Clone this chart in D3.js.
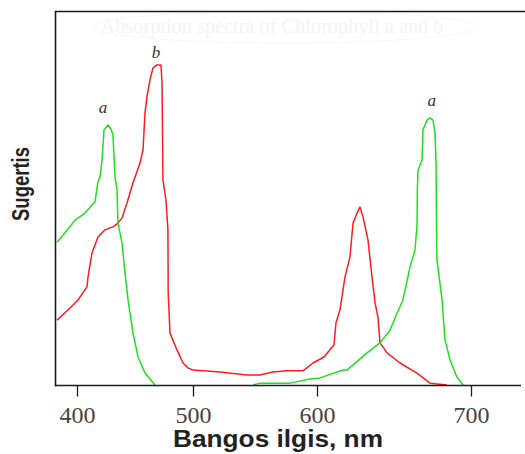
<!DOCTYPE html>
<html>
<head>
<meta charset="utf-8">
<script src="https://cdn.jsdelivr.net/npm/d3@7/dist/d3.min.js"></script>
<style>
  html, body { margin: 0; padding: 0; background: #fff; }
  svg { display: block; }
</style>
</head>
<body>
<svg id="chart" width="525" height="454"></svg>
<script>
// ---- data ----
const tickValues = [400, 500, 600, 700];
const tickLabels = ["400", "500", "600", "700"];

// Chlorophyll a (green)
const chlA_nm  = [382.8, 389.7, 398.3, 406.9, 415.5, 418.1, 419.8, 421.6, 423.3, 426.7, 429.5, 431.0, 432.8, 434.5, 435.3, 438.8, 441.4, 444.0, 448.3, 452.6, 458.6, 467.2,
                  467.3, 548.4,
                  548.5, 554.0, 578.2, 594.4, 601.9, 616.9, 619.5, 632.5, 640.9, 647.4, 652.0, 655.8, 660.4, 663.6, 664.9, 665.2, 665.6, 668.2, 668.8, 671.4, 673.4, 675.3, 676.6, 677.3, 677.6, 677.9, 681.2, 683.1, 686.4, 690.9, 694.8];
const chlA_abs = [0.383, 0.408, 0.442, 0.461, 0.491, 0.545, 0.558, 0.603, 0.684, 0.697, 0.685, 0.670, 0.558, 0.523, 0.434, 0.381, 0.300, 0.228, 0.139, 0.075, 0.032, 0.000,
                  null, null,
                  0.000, 0.005, 0.005, 0.016, 0.019, 0.040, 0.040, 0.086, 0.113, 0.147, 0.193, 0.228, 0.316, 0.362, 0.424, 0.528, 0.576, 0.603, 0.684, 0.710, 0.716, 0.710, 0.678, 0.595, 0.424, 0.335, 0.228, 0.121, 0.067, 0.021, 0.000];

// Chlorophyll b (red)
const chlB_nm  = [382.8, 392.2, 400.9, 408.6, 409.5, 412.9, 418.1, 424.1, 431.0, 435.3, 438.8, 443.1, 448.3, 454.3, 456.9, 458.6, 460.3, 462.9, 465.5, 469.0, 472.4, 473.3, 474.1, 476.7, 478.4, 478.6, 480.2, 486.2, 491.4, 495.7, 500.0, 521.8, 543.5, 554.0, 564.5, 575.8, 588.7, 596.8, 604.5, 611.0, 612.3, 614.9, 618.2, 621.4, 623.4, 626.0, 627.9, 629.9, 633.1, 635.7, 637.7, 639.6, 640.9, 645.5, 653.9, 664.9, 673.4, 684.4];
const chlB_abs = [0.174, 0.201, 0.228, 0.263, 0.290, 0.354, 0.397, 0.416, 0.424, 0.434, 0.448, 0.488, 0.542, 0.595, 0.630, 0.729, 0.772, 0.818, 0.850, 0.858, 0.858, 0.810, 0.550, 0.496, 0.416, 0.247, 0.139, 0.094, 0.059, 0.046, 0.040, 0.035, 0.027, 0.027, 0.035, 0.038, 0.038, 0.059, 0.075, 0.107, 0.166, 0.201, 0.290, 0.343, 0.434, 0.461, 0.477, 0.450, 0.389, 0.290, 0.220, 0.182, 0.113, 0.086, 0.059, 0.032, 0.005, 0.000];

const xLabel = "Bangos ilgis, nm";
const yLabel = "Sugertis";
const faintTitle = "Absorption spectra of Chlorophyll a and b";
const peakLabels = [
  { text: "a", nm: 422.5, abs: 0.728 },
  { text: "b", nm: 468.0, abs: 0.878 },
  { text: "a", nm: 674.5, abs: 0.749 }
];

// ---- drawing ----
const svg = d3.select("#chart");

const x = d3.scaleLinear().domain([400, 500, 600, 700]).range([77, 193, 317, 471]);
const y = d3.scaleLinear().domain([0, 1]).range([385, 12]);

// faint title (barely visible in reference)
svg.append("ellipse")
  .attr("cx", 285).attr("cy", 27).attr("rx", 192).attr("ry", 16)
  .attr("fill", "none").attr("stroke", "#f8f8f8").attr("stroke-width", 1);
svg.append("text")
  .attr("x", 272).attr("y", 33)
  .attr("text-anchor", "middle")
  .attr("font-family", "Liberation Serif, serif")
  .attr("font-size", 20)
  .attr("fill", "#f4f4f4")
  .attr("textLength", 343).attr("lengthAdjust", "spacingAndGlyphs")
  .text(faintTitle);

const lineGen = (nm, vals) => d3.line()
  .defined((d, i) => vals[i] !== null)
  .x((d, i) => x(nm[i]))
  .y((d, i) => y(vals[i]))(nm);

svg.append("path")
  .attr("d", lineGen(chlB_nm, chlB_abs))
  .attr("fill", "none").attr("stroke", "#ff1c1c").attr("stroke-width", 1.5)
  .attr("stroke-linejoin", "round");

svg.append("path")
  .attr("d", lineGen(chlA_nm, chlA_abs))
  .attr("fill", "none").attr("stroke", "#1ee01e").attr("stroke-width", 1.5)
  .attr("stroke-linejoin", "round");

// frame lines
const frameColor = "#1a1a1a";
svg.append("line").attr("x1", 55.5).attr("x2", 55.5).attr("y1", 11).attr("y2", 386.3)
  .attr("stroke", frameColor).attr("stroke-width", 1.6);
svg.append("line").attr("x1", 55).attr("x2", 525).attr("y1", 11.5).attr("y2", 11.5)
  .attr("stroke", frameColor).attr("stroke-width", 1.6);
svg.append("line").attr("x1", 55).attr("x2", 521).attr("y1", 385.5).attr("y2", 385.5)
  .attr("stroke", frameColor).attr("stroke-width", 1.6);

// x axis
const xAxis = d3.axisBottom(x)
  .tickValues(tickValues)
  .tickFormat((d, i) => tickLabels[i])
  .tickSize(11)
  .tickPadding(9);
const gx = svg.append("g").attr("transform", "translate(0,385.5)").call(xAxis);
gx.select(".domain").remove();
gx.selectAll(".tick line").attr("stroke", frameColor).attr("stroke-width", 1.3);
gx.selectAll(".tick text")
  .attr("font-family", "Liberation Serif, serif")
  .attr("font-size", 24)
  .attr("fill", "#444");

// axis titles
svg.append("text")
  .attr("x", 278).attr("y", 447)
  .attr("text-anchor", "middle")
  .attr("font-family", "Liberation Sans, Arial, sans-serif")
  .attr("font-weight", "bold")
  .attr("font-size", 23)
  .attr("fill", "#222")
  .attr("textLength", 210).attr("lengthAdjust", "spacingAndGlyphs")
  .text(xLabel);

svg.append("text")
  .attr("transform", "translate(29,184) rotate(-90)")
  .attr("text-anchor", "middle")
  .attr("font-family", "Liberation Sans, Arial, sans-serif")
  .attr("font-weight", "bold")
  .attr("font-size", 23)
  .attr("fill", "#222")
  .attr("textLength", 74).attr("lengthAdjust", "spacingAndGlyphs")
  .text(yLabel);

// peak labels
svg.selectAll("text.peak").data(peakLabels).enter().append("text")
  .attr("class", "peak")
  .attr("x", d => x(d.nm)).attr("y", d => y(d.abs))
  .attr("text-anchor", "middle")
  .attr("font-family", "Liberation Serif, serif")
  .attr("font-style", "italic")
  .attr("font-size", 17)
  .attr("fill", "#333")
  .text(d => d.text);
</script>
</body>
</html>
